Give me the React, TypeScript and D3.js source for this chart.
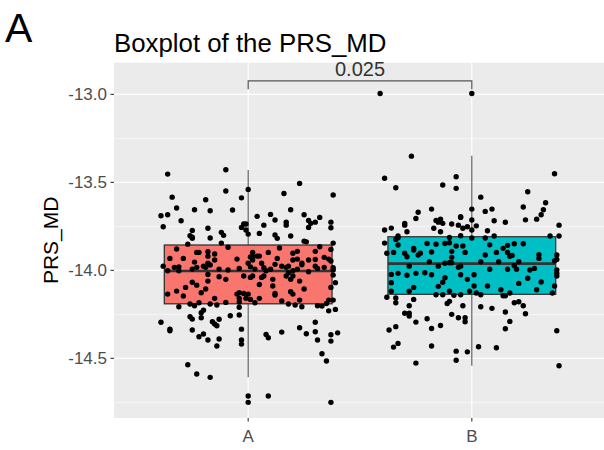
import * as d3 from "d3";

// categories and boxplot stats
const categories = ["A", "B"];
const fills = ["#F8766D", "#00BFC4"];
const q1 = [-14.19, -14.136];
const medians = [-14.004, -13.962];
const q3 = [-13.856, -13.809];
const whiskerLow = [-14.608, -14.542];
const whiskerHigh = [-13.43, -13.349];
const outliers = [[-14.714, -14.75], [-12.995]];

const yTicks = [-14.5, -14.0, -13.5, -13.0];
const yMinor = [-14.75, -14.25, -13.75, -13.25];
const pValue = "0.025";

// jittered points: [offset in category units, PRS_MD]
const pointsA: [number, number][] = [
  [-0.36, -13.453], [-0.1, -13.428], [-0.1, -13.549], [-0.34, -13.584], [-0.19, -13.599], [-0.32, -13.646],
  [-0.39, -13.69], [-0.36, -13.684], [-0.24, -13.656], [-0.17, -13.661], [-0.07, -13.657], [-0.3, -13.718],
  [-0.38, -13.752], [-0.25, -13.773], [-0.18, -13.761], [-0.12, -13.784], [-0.26, -13.803], [-0.25, -13.812],
  [-0.25, -13.818], [-0.17, -13.816], [-0.11, -13.801], [-0.12, -13.845], [-0.27, -13.851], [-0.09, -13.869],
  [-0.32, -13.879], [-0.23, -13.898], [-0.22, -13.898], [-0.18, -13.894], [-0.18, -13.92], [-0.15, -13.907],
  [-0.35, -13.932], [-0.29, -13.932], [-0.15, -13.941], [-0.05, -13.936], [-0.24, -13.953], [-0.18, -13.96],
  [-0.17, -13.97], [-0.38, -13.976], [-0.33, -13.983], [-0.31, -13.98], [-0.23, -13.983], [-0.25, -13.993],
  [-0.2, -13.976], [-0.19, -13.983], [-0.36, -14.002], [-0.31, -14.002], [-0.09, -13.998], [-0.13, -13.993],
  [-0.18, -14.023], [0.0, -13.54], [-0.03, -13.588], [0.23, -13.506], [0.16, -13.563], [0.38, -13.572],
  [0.19, -13.656], [0.04, -13.693], [0.1, -13.682], [0.12, -13.714], [0.07, -13.743], [0.17, -13.726],
  [0.17, -13.743], [0.25, -13.684], [0.27, -13.716], [0.28, -13.733], [0.27, -13.756], [0.3, -13.726],
  [0.32, -13.699], [0.37, -13.726], [0.37, -13.758], [-0.02, -13.737], [-0.03, -13.756], [-0.01, -13.771],
  [-0.01, -13.737], [0.0, -13.794], [0.05, -13.79], [0.12, -13.799], [0.13, -13.818], [0.19, -13.805],
  [0.25, -13.834], [0.26, -13.838], [0.38, -13.845], [0.32, -13.866], [0.14, -13.873], [0.02, -13.898],
  [0.02, -13.923], [0.09, -13.898], [0.2, -13.903], [0.22, -13.892], [0.3, -13.892], [0.37, -13.881],
  [0.01, -13.924], [0.02, -13.941], [0.04, -13.919], [0.05, -13.919], [0.13, -13.932], [0.2, -13.941],
  [0.22, -13.936], [0.24, -13.96], [0.27, -13.941], [0.3, -13.938], [0.34, -13.926], [0.36, -13.936],
  [0.0, -13.96], [0.01, -13.98], [0.06, -13.96], [0.07, -13.985], [0.12, -13.966], [0.15, -13.976],
  [0.17, -13.983], [0.18, -13.976], [0.24, -13.968], [0.3, -13.976], [0.31, -13.989], [0.37, -13.947],
  [-0.04, -13.989], [0.03, -13.993], [0.08, -14.002], [0.1, -13.994], [0.18, -14.014], [0.2, -14.002],
  [0.22, -13.993], [0.27, -14.008], [0.34, -13.983], [0.38, -13.985], [0.38, -13.998], [-0.02, -14.032],
  [0.01, -14.04], [0.02, -14.032], [0.06, -14.04], [0.07, -14.032], [0.11, -14.051], [0.17, -14.032],
  [0.2, -14.032], [0.19, -14.051], [0.23, -14.061], [0.38, -14.027], [0.05, -14.08], [0.11, -14.089],
  [0.39, -14.07], [0.25, -14.106], [0.37, -14.097], [-0.05, -14.135], [-0.04, -14.127], [-0.02, -14.131],
  [0.0, -14.135], [-0.01, -14.159], [0.01, -14.165], [0.03, -14.184], [0.05, -14.159], [-0.04, -14.159],
  [-0.04, -14.18], [0.12, -14.14], [0.12, -14.131], [0.19, -14.122], [0.2, -14.135], [0.15, -14.174],
  [0.18, -14.191], [0.21, -14.197], [0.23, -14.169], [0.24, -14.207], [0.31, -14.201], [0.33, -14.203],
  [0.35, -14.188], [0.36, -14.169], [0.38, -14.169], [-0.04, -14.21], [-0.04, -14.254], [0.36, -14.23],
  [0.39, -14.222], [-0.03, -14.334], [0.08, -14.364], [0.09, -14.383], [0.15, -14.351], [0.23, -14.326],
  [0.26, -14.36], [0.3, -14.295], [0.3, -14.349], [0.37, -14.366], [0.4, -14.355], [-0.03, -14.396],
  [-0.03, -14.419], [0.31, -14.396], [0.37, -14.402], [0.33, -14.474], [0.35, -14.515], [0.09, -14.714],
  [0.37, -14.75], [-0.13, -14.036], [-0.1, -14.051], [-0.25, -14.068], [-0.23, -14.084], [-0.18, -14.061],
  [-0.28, -14.097], [-0.19, -14.106], [-0.21, -14.127], [-0.32, -14.118], [-0.36, -14.135], [-0.29, -14.146],
  [-0.15, -14.159], [-0.26, -14.191], [-0.24, -14.201], [-0.22, -14.184], [-0.17, -14.191], [-0.14, -14.197],
  [-0.1, -14.182], [-0.31, -14.207], [-0.2, -14.226], [-0.21, -14.241], [-0.08, -14.258], [-0.26, -14.264],
  [-0.25, -14.277], [-0.21, -14.269], [-0.13, -14.278], [-0.39, -14.295], [-0.16, -14.292], [-0.15, -14.305],
  [-0.14, -14.315], [-0.35, -14.334], [-0.35, -14.343], [-0.25, -14.339], [-0.22, -14.377], [-0.2, -14.362],
  [-0.18, -14.396], [-0.13, -14.39], [-0.14, -14.43], [-0.27, -14.536], [-0.23, -14.589], [-0.17, -14.608],
];

const pointsB: [number, number][] = [
  [-0.41, -12.995], [-0.27, -13.351], [-0.39, -13.477], [-0.34, -13.531], [-0.13, -13.515], [-0.07, -13.468],
  [-0.07, -13.534], [-0.18, -13.652], [-0.24, -13.67], [-0.25, -13.705], [-0.3, -13.733], [-0.3, -13.743],
  [-0.16, -13.716], [-0.15, -13.726], [-0.14, -13.71], [-0.13, -13.733], [-0.05, -13.699], [-0.05, -13.695],
  [-0.39, -13.771], [-0.36, -13.76], [-0.29, -13.781], [-0.17, -13.761], [-0.14, -13.781], [-0.09, -13.737],
  [-0.06, -13.743], [-0.04, -13.761], [-0.02, -13.752], [-0.33, -13.805], [-0.34, -13.824], [-0.33, -13.815],
  [-0.05, -13.803], [-0.39, -13.845], [-0.38, -13.903], [-0.35, -13.898], [-0.3, -13.903], [-0.29, -13.923],
  [-0.26, -13.885], [-0.26, -13.875], [-0.24, -13.913], [-0.23, -13.903], [-0.2, -13.847], [-0.16, -13.851],
  [-0.18, -13.896], [-0.12, -13.847], [-0.1, -13.843], [-0.1, -13.813], [-0.09, -13.892], [-0.09, -13.926],
  [-0.07, -13.862], [-0.04, -13.862], [-0.03, -13.898], [-0.33, -13.856], [-0.19, -13.951], [-0.15, -13.976],
  [-0.12, -13.96], [-0.1, -13.957], [-0.09, -13.957], [-0.06, -13.983], [-0.05, -13.976], [-0.28, -13.976],
  [-0.36, -14.023], [-0.33, -14.017], [-0.25, -14.017], [-0.21, -14.014], [-0.18, -14.025], [-0.05, -14.025],
  [0.37, -13.451], [0.25, -13.553], [0.04, -13.584], [0.33, -13.616], [0.32, -13.656], [0.31, -13.684],
  [0.29, -13.709], [0.23, -13.64], [0.24, -13.713], [0.0, -13.652], [0.0, -13.714], [0.0, -13.771],
  [0.06, -13.665], [0.09, -13.652], [0.1, -13.718], [0.15, -13.727], [0.02, -13.747], [0.39, -13.743],
  [0.07, -13.775], [0.0, -13.816], [0.06, -13.816], [0.1, -13.805], [0.35, -13.805], [0.39, -13.805],
  [0.08, -13.855], [0.14, -13.875], [0.16, -13.858], [0.19, -13.849], [0.23, -13.849], [0.11, -13.898],
  [0.16, -13.898], [0.17, -13.92], [0.18, -13.915], [0.06, -13.913], [0.3, -13.911], [0.3, -13.932],
  [0.38, -13.913], [0.38, -13.938], [0.37, -13.945], [0.04, -13.951], [0.12, -13.951], [0.21, -13.951],
  [0.19, -13.974], [0.2, -13.994], [0.16, -13.994], [0.08, -13.994], [0.26, -13.998], [0.28, -13.989],
  [0.38, -13.998], [0.38, -14.017], [0.01, -14.025], [0.38, -14.032], [0.25, -14.045], [-0.36, -14.07],
  [-0.36, -14.119], [-0.29, -14.028], [-0.26, -14.097], [-0.28, -14.119], [-0.15, -14.091], [-0.13, -14.068],
  [-0.12, -14.042], [-0.02, -14.051], [-0.1, -14.119], [-0.16, -14.139], [-0.13, -14.139], [-0.08, -14.142],
  [-0.05, -14.139], [-0.01, -14.119], [-0.38, -14.153], [-0.34, -14.157], [-0.34, -14.184], [-0.26, -14.165],
  [-0.11, -14.188], [-0.1, -14.176], [-0.04, -14.201], [-0.28, -14.201], [-0.3, -14.244], [-0.28, -14.244],
  [-0.28, -14.26], [-0.09, -14.25], [-0.06, -14.269], [-0.03, -14.269], [-0.03, -14.292], [-0.2, -14.275],
  [-0.25, -14.294], [-0.37, -14.339], [-0.34, -14.32], [-0.18, -14.33], [-0.14, -14.313], [-0.35, -14.436],
  [-0.33, -14.415], [-0.18, -14.43], [-0.07, -14.459], [-0.02, -14.463], [-0.25, -14.527], [-0.07, -14.511],
  [0.07, -14.089], [0.01, -14.089], [0.02, -14.129], [0.04, -14.139], [0.13, -14.11], [0.14, -14.144],
  [0.15, -14.144], [0.17, -14.129], [0.21, -14.074], [0.31, -14.066], [0.29, -14.11], [0.37, -14.089],
  [0.36, -14.129], [0.04, -14.207], [0.09, -14.216], [0.19, -14.184], [0.21, -14.178], [0.23, -14.201],
  [0.24, -14.247], [0.15, -14.237], [0.17, -14.29], [0.15, -14.332], [0.38, -14.343], [0.03, -14.434],
  [0.11, -14.44], [0.39, -14.542],
];

const groups = [pointsA, pointsB];

const W = 604;
const H = 450;
const panel = { left: 114, right: 606, top: 62.7, bottom: 418 };
const font = "'Liberation Sans', Arial, sans-serif";

export default function App() {
  const x = d3
    .scalePoint<string>()
    .domain(categories)
    .range([panel.left, panel.right])
    .padding(0.6);
  const step = x.step();
  const y = d3.scaleLinear().domain([-14.839, -12.82]).range([panel.bottom, panel.top]);

  const boxW = step * 0.75;
  const bracketY = y(-12.923);

  return (
    <svg
      width={W}
      height={H}
      style={{ position: "absolute", left: 0, top: 0, background: "#fff" }}
      fontFamily={font}
    >
      <text x={5} y={42} fontSize={41} fill="#000">A</text>
      <text x={114} y={52} fontSize={25.8} fill="#000">Boxplot of the PRS_MD</text>

      <rect
        x={panel.left}
        y={panel.top}
        width={panel.right - panel.left}
        height={panel.bottom - panel.top}
        fill="#EBEBEB"
      />
      {yMinor.map((t) => (
        <line key={"m" + t} x1={panel.left} x2={panel.right} y1={y(t)} y2={y(t)} stroke="#fff" strokeWidth={0.6} />
      ))}
      {yTicks.map((t) => (
        <line key={"g" + t} x1={panel.left} x2={panel.right} y1={y(t)} y2={y(t)} stroke="#fff" strokeWidth={1.2} />
      ))}
      {categories.map((c) => (
        <line key={"v" + c} x1={x(c)} x2={x(c)} y1={panel.top} y2={panel.bottom} stroke="#fff" strokeWidth={1.2} />
      ))}

      {/* boxplots */}
      {categories.map((c, i) => {
        const cx = x(c)!;
        return (
          <g key={"box" + c}>
            <line x1={cx} x2={cx} y1={y(whiskerHigh[i])} y2={y(q3[i])} stroke="#555" strokeWidth={1.1} />
            <line x1={cx} x2={cx} y1={y(q1[i])} y2={y(whiskerLow[i])} stroke="#555" strokeWidth={1.1} />
            <rect
              x={cx - boxW / 2}
              y={y(q3[i])}
              width={boxW}
              height={y(q1[i]) - y(q3[i])}
              fill={fills[i]}
              stroke="#333"
              strokeWidth={1.3}
            />
            <line
              x1={cx - boxW / 2}
              x2={cx + boxW / 2}
              y1={y(medians[i])}
              y2={y(medians[i])}
              stroke="#333"
              strokeWidth={2.6}
            />
            {outliers[i].map((v, k) => (
              <circle key={k} cx={cx} cy={y(v)} r={2.7} fill="#000" />
            ))}
          </g>
        );
      })}

      {/* jittered points */}
      {groups.map((pts, i) =>
        pts.map(([dx, v], k) => (
          <circle key={i + "-" + k} cx={x(categories[i])! + dx * step} cy={y(v)} r={2.7} fill="#000" />
        ))
      )}

      {/* significance bracket */}
      <path
        d={`M${x("A")},${bracketY + 8.3}V${bracketY}H${x("B")}V${bracketY + 8.3}`}
        fill="none"
        stroke="#555"
        strokeWidth={1.2}
      />
      <text
        x={(x("A")! + x("B")!) / 2}
        y={bracketY - 4.5}
        fontSize={20}
        textAnchor="middle"
        fill="#333"
      >
        {pValue}
      </text>

      {/* y axis */}
      {yTicks.map((t) => (
        <g key={"yt" + t}>
          <line x1={panel.left - 3.5} x2={panel.left} y1={y(t)} y2={y(t)} stroke="#333" strokeWidth={1.1} />
          <text x={panel.left - 7} y={y(t)} dy="0.35em" fontSize={17} textAnchor="end" fill="#4D4D4D">
            {t.toFixed(1)}
          </text>
        </g>
      ))}
      <text
        transform={`translate(58,${(panel.top + panel.bottom) / 2}) rotate(-90)`}
        fontSize={21}
        textAnchor="middle"
        fill="#000"
      >
        PRS_MD
      </text>

      {/* x axis */}
      {categories.map((c) => (
        <g key={"xt" + c}>
          <line x1={x(c)} x2={x(c)} y1={panel.bottom} y2={panel.bottom + 3.5} stroke="#333" strokeWidth={1.1} />
          <text x={x(c)} y={panel.bottom + 24} fontSize={17} textAnchor="middle" fill="#4D4D4D">
            {c}
          </text>
        </g>
      ))}
    </svg>
  );
}
